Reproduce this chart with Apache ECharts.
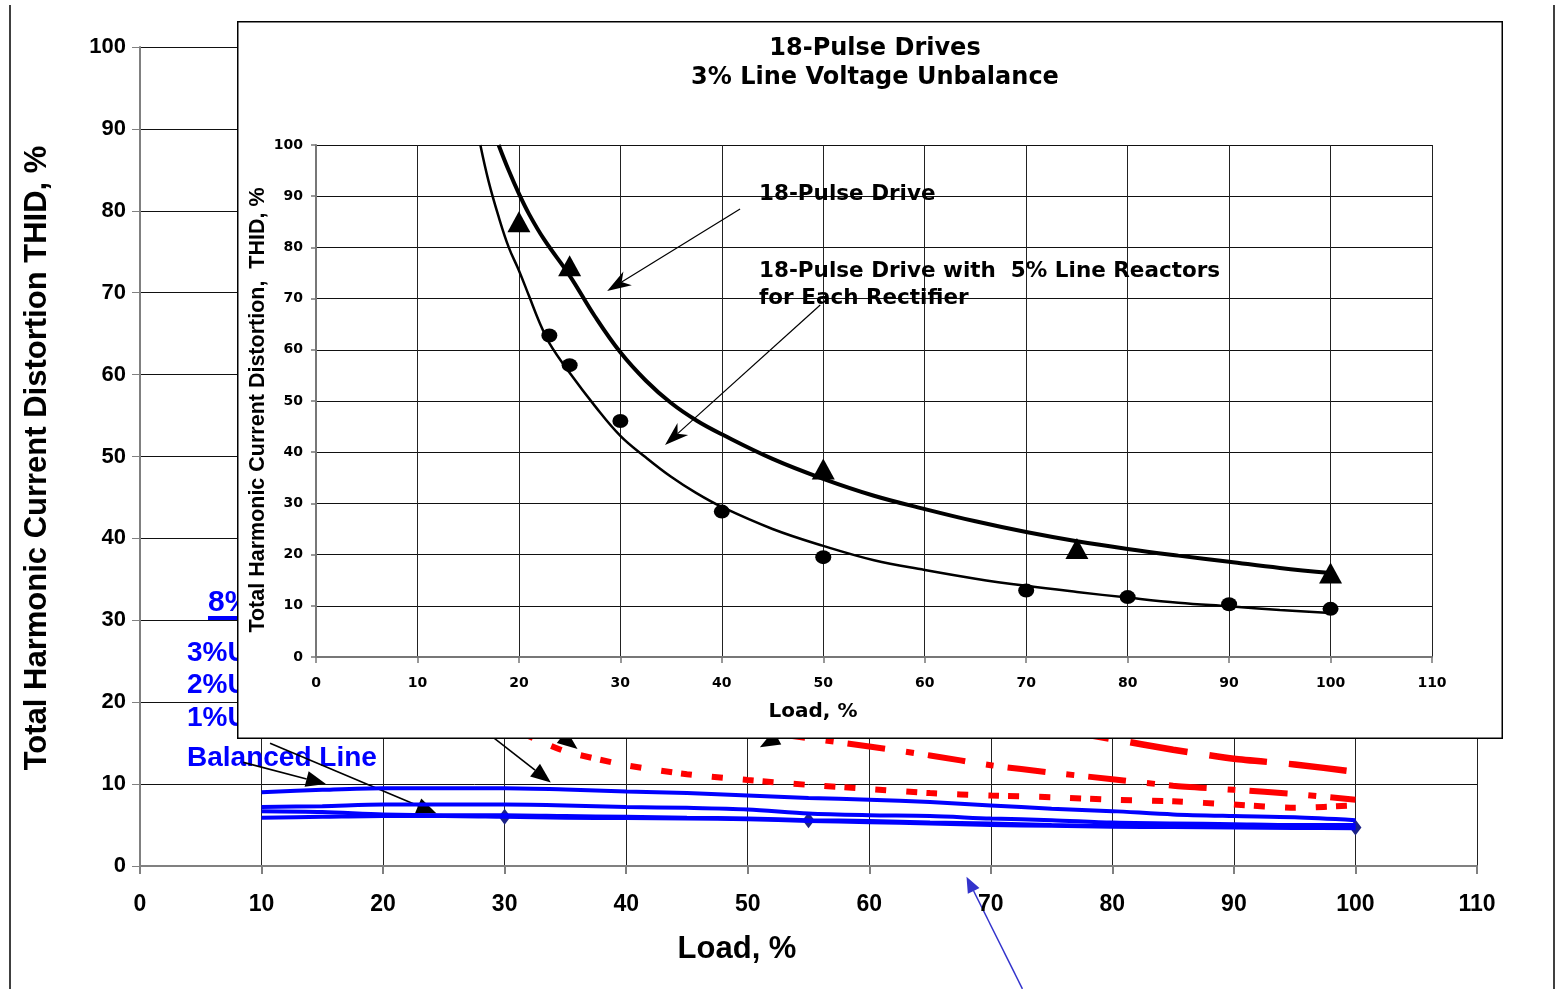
<!DOCTYPE html>
<html>
<head>
<meta charset="utf-8">
<script src="https://cdn.jsdelivr.net/npm/echarts@6/dist/echarts.min.js"></script>
<style>
  html, body { margin: 0; padding: 0; background: #fff; }
  #outer { position: absolute; left: 0; top: 0; width: 1560px; height: 989px; }
  #inset { position: absolute; left: 237px; top: 21px; width: 1266px; height: 718px; background: #fff; }
</style>
</head>
<body>
<div id="outer"></div>
<div id="inset"></div>
<script>
// ---- outer chart (mostly covered by the inset) ----
const outerLoad = [10, 15, 20, 25, 30, 35, 40, 45, 50, 55, 60, 65, 70, 75, 80, 85, 90, 95, 100];
const blueA = [9.0, 9.3, 9.5, 9.5, 9.5, 9.35, 9.1, 8.9, 8.6, 8.3, 8.1, 7.8, 7.4, 7.0, 6.7, 6.3, 6.1, 5.95, 5.6];
const blueB = [7.2, 7.3, 7.5, 7.5, 7.5, 7.4, 7.2, 7.1, 6.9, 6.4, 6.2, 6.1, 5.8, 5.6, 5.3, 5.2, 5.1, 5.0, 5.0];
const blueC = [6.7, 6.6, 6.3, 6.2, 6.2, 6.1, 6.0, 5.9, 5.8, 5.6, 5.5, 5.3, 5.2, 5.0, 4.9, 4.9, 4.9, 4.85, 4.8];
const blueD = [5.9, 6.0, 6.1, 6.1, 6.0, 5.9, 5.85, 5.8, 5.7, 5.5, 5.35, 5.2, 5.0, 4.9, 4.8, 4.75, 4.7, 4.65, 4.6];
const diamondLoad = [30, 55, 100];
const diamondThid = [6.0, 5.6, 4.7];

const redDashLoad = [75, 80, 85, 90, 95, 100];
const redDash = [16.8, 15.5, 14.2, 13.1, 12.4, 11.5];
const redDashDotLoad = [45, 50, 55, 60, 65, 70, 75, 80, 85, 90, 95, 100];
const redDashDot = [17.6, 16.6, 15.6, 14.6, 13.5, 12.3, 11.4, 10.6, 9.8, 9.3, 8.8, 8.1];
const redDotLoad = [30, 32.5, 35, 40, 45, 50, 55, 60, 65, 70, 75, 80, 85, 90, 95, 100];
const redDot = [17.2, 15.5, 14.0, 12.3, 11.2, 10.5, 9.9, 9.4, 8.9, 8.6, 8.4, 8.1, 7.9, 7.5, 7.1, 7.4];

// ---- inset: 18-pulse drives, 3% line voltage unbalance ----
const p18Load = [18, 19, 20, 21, 22.5, 25, 27.5, 30, 32.5, 35, 37.5, 40, 45, 50, 55, 60, 65, 70, 75, 80, 85, 90, 95, 100];
const p18Thid = [100, 95, 90.5, 86.5, 81.5, 74.5, 66.5, 59.5, 54, 49.6, 46.2, 43.5, 38.7, 34.8, 31.5, 28.9, 26.5, 24.4, 22.6, 21.1, 19.8, 18.6, 17.4, 16.4];
const p18rLoad = [16.2, 17, 18, 19, 20, 21, 22, 23, 25, 27.5, 30, 32.5, 35, 37.5, 40, 45, 50, 55, 60, 65, 70, 75, 80, 85, 90, 95, 100];
const p18rThid = [100, 93, 86, 80, 75.5, 70.5, 65.5, 61.3, 55.5, 49, 43.2, 39, 35.2, 32, 29.3, 25, 21.7, 18.9, 17.0, 15.3, 13.9, 12.7, 11.6, 10.6, 9.9, 9.2, 8.6];
const triLoad = [20, 25, 50, 75, 100];
const triThid = [85, 76.4, 36.7, 21.2, 16.4];
const dotLoad = [23, 25, 30, 40, 50, 70, 80, 90, 100];
const dotThid = [62.8, 57, 46.1, 28.4, 19.5, 13.0, 11.7, 10.3, 9.4];

const zip = (xs, ys) => xs.map((x, i) => [x, ys[i]]);

const ARIAL = "'Liberation Sans', Arial, sans-serif";
const WIDE = "'DejaVu Sans', Verdana, sans-serif";
const BLUE = '#0000ff';
const RED = '#ff0000';

function arrowEls(chart, from, to, o) {
  const a = chart.convertToPixel({ gridIndex: 0 }, from);
  const b = chart.convertToPixel({ gridIndex: 0 }, to);
  const dx = b[0] - a[0], dy = b[1] - a[1];
  const len = Math.hypot(dx, dy);
  const ux = dx / len, uy = dy / len, nx = -uy, ny = ux;
  const bx = b[0] - ux * o.head, by = b[1] - uy * o.head;
  const w = o.width / 2;
  const notch = o.notch || 0;
  const cx = bx + ux * notch, cy = by + uy * notch;
  return [
    { type: 'line', silent: true, shape: { x1: a[0], y1: a[1], x2: cx, y2: cy },
      style: { stroke: o.color, lineWidth: o.lw } },
    { type: 'polygon', silent: true,
      shape: { points: [b, [bx + nx * w, by + ny * w], [cx, cy], [bx - nx * w, by - ny * w]] },
      style: { fill: o.color } }
  ];
}

// outer
const outer = echarts.init(document.getElementById('outer'));
outer.setOption({
  animation: false,
  grid: { left: 140, top: 47, width: 1337, height: 819 },
  xAxis: {
    type: 'value', min: 0, max: 110, interval: 10,
    axisLine: { lineStyle: { color: '#808080', width: 2 } },
    axisTick: { length: 8, lineStyle: { color: '#808080', width: 2 } },
    axisLabel: { margin: 27, color: '#000', fontFamily: ARIAL, fontWeight: 'bold', fontSize: 23 },
    splitLine: { show: true, lineStyle: { color: '#222', width: 1 } }
  },
  yAxis: {
    type: 'value', min: 0, max: 100, interval: 10,
    axisLine: { show: true, lineStyle: { color: '#808080', width: 2 } },
    axisTick: { show: true, length: 8, lineStyle: { color: '#808080', width: 1 } },
    axisLabel: { margin: 14, color: '#000', fontFamily: ARIAL, fontWeight: 'bold', fontSize: 22 },
    splitLine: { show: true, lineStyle: { color: '#111', width: 1 } }
  },
  series: [
    { type: 'line', data: zip(redDotLoad, redDot), symbol: 'none', smooth: 0.2,
      lineStyle: { color: RED, width: 6, type: [11, 9, 11, 20, 11, 20] } },
    { type: 'line', data: zip(redDashDotLoad, redDashDot), symbol: 'none', smooth: 0.2,
      lineStyle: { color: RED, width: 6, type: [38, 21, 8, 14] } },
    { type: 'line', data: zip(redDashLoad, redDash), symbol: 'none', smooth: 0.2,
      lineStyle: { color: RED, width: 6.5, type: [58, 22] } },
    { type: 'line', data: zip(outerLoad, blueA), symbol: 'none', smooth: 0.3,
      lineStyle: { color: BLUE, width: 4 } },
    { type: 'line', data: zip(outerLoad, blueB), symbol: 'none', smooth: 0.3,
      lineStyle: { color: BLUE, width: 4 } },
    { type: 'line', data: zip(outerLoad, blueC), symbol: 'none', smooth: 0.3,
      lineStyle: { color: BLUE, width: 4 } },
    { type: 'line', data: zip(outerLoad, blueD), symbol: 'none', smooth: 0.3,
      lineStyle: { color: BLUE, width: 4 } },
    { type: 'scatter', data: zip(diamondLoad, diamondThid), symbol: 'diamond', symbolSize: [12, 16],
      itemStyle: { color: '#1c2288', opacity: 1 } }
  ]
});

const blk = { color: '#000', lw: 1.6, head: 20, width: 16 };
outer.setOption({
  graphic: { elements: [
    { type: 'line', shape: { x1: 10, y1: 5, x2: 10, y2: 989 }, style: { stroke: '#000', lineWidth: 1.5 } },
    { type: 'line', shape: { x1: 1554, y1: 5, x2: 1554, y2: 989 }, style: { stroke: '#000', lineWidth: 1.5 } },
    { type: 'text', x: 37, y: 458, rotation: Math.PI / 2,
      style: { text: 'Total Harmonic Current Distortion THID, %', font: 'bold 31px ' + ARIAL,
        fill: '#000', textAlign: 'center', textVerticalAlign: 'middle' } },
    { type: 'text', x: 737, y: 949,
      style: { text: 'Load, %', font: 'bold 31px ' + ARIAL, fill: '#000', textAlign: 'center', textVerticalAlign: 'middle' } },
    { type: 'text', x: 208, y: 603,
      style: { text: '8%', font: 'bold 30px ' + ARIAL, fill: BLUE, textAlign: 'left', textVerticalAlign: 'middle' } },
    { type: 'line', shape: { x1: 208, y1: 618, x2: 260, y2: 618 }, style: { stroke: BLUE, lineWidth: 4 } },
    { type: 'text', x: 187, y: 653,
      style: { text: '3%U', font: 'bold 28px ' + ARIAL, fill: BLUE, textAlign: 'left', textVerticalAlign: 'middle' } },
    { type: 'text', x: 187, y: 685,
      style: { text: '2%U', font: 'bold 28px ' + ARIAL, fill: BLUE, textAlign: 'left', textVerticalAlign: 'middle' } },
    { type: 'text', x: 187, y: 718,
      style: { text: '1%U', font: 'bold 28px ' + ARIAL, fill: BLUE, textAlign: 'left', textVerticalAlign: 'middle' } },
    { type: 'text', x: 187, y: 758,
      style: { text: 'Balanced Line', font: 'bold 28px ' + ARIAL, fill: BLUE, textAlign: 'left', textVerticalAlign: 'middle' } },
    ...arrowEls(outer, [8.5, 12.65], [15.3, 10.0], blk),
    ...arrowEls(outer, [10.7, 15.0], [24.4, 6.4], blk),
    ...arrowEls(outer, [27.5, 17.5], [33.8, 10.2], blk),
    ...arrowEls(outer, [31.5, 19.5], [36.0, 14.3], blk),
    ...arrowEls(outer, [56.5, 19.0], [51.0, 14.5], blk),
    ...arrowEls(outer, [72.6, -15.0], [68.0, -1.3], { color: '#3333cc', lw: 1.5, head: 16, width: 13 })
  ] }
});

// inset
const inset = echarts.init(document.getElementById('inset'));
inset.setOption({
  animation: false,
  grid: { left: 79, top: 124, width: 1116, height: 512 },
  xAxis: {
    type: 'value', min: 0, max: 110, interval: 10,
    axisLine: { lineStyle: { color: '#777', width: 2 } },
    axisTick: { length: 6, lineStyle: { color: '#777', width: 1.5 } },
    axisLabel: { margin: 19, color: '#000', fontFamily: WIDE, fontWeight: 'bold', fontSize: 14 },
    splitLine: { show: true, lineStyle: { color: '#222', width: 1 } }
  },
  yAxis: {
    type: 'value', min: 0, max: 100, interval: 10,
    axisLine: { show: true, lineStyle: { color: '#777', width: 2 } },
    axisTick: { show: true, length: 5, lineStyle: { color: '#777', width: 1.5 } },
    axisLabel: { margin: 13, color: '#000', fontFamily: WIDE, fontWeight: 'bold', fontSize: 14 },
    splitLine: { show: true, lineStyle: { color: '#111', width: 1 } }
  },
  series: [
    { type: 'line', data: zip(p18Load, p18Thid), symbol: 'none', smooth: 0.4,
      lineStyle: { color: '#000', width: 4 } },
    { type: 'line', data: zip(p18rLoad, p18rThid), symbol: 'none', smooth: 0.4,
      lineStyle: { color: '#000', width: 2.5 } },
    { type: 'scatter', data: zip(triLoad, triThid), symbol: 'triangle', symbolSize: [23, 21],
      itemStyle: { color: '#000', opacity: 1 } },
    { type: 'scatter', data: zip(dotLoad, dotThid), symbol: 'circle', symbolSize: [16, 14],
      itemStyle: { color: '#000', opacity: 1 } }
  ]
});

const thin = { color: '#000', lw: 1.2, head: 24, width: 16, notch: 7 };
inset.setOption({
  graphic: { elements: [
    { type: 'rect', shape: { x: 0.75, y: 0.75, width: 1264.5, height: 716.5 },
      style: { fill: 'none', stroke: '#000', lineWidth: 1.5 } },
    { type: 'text', x: 638, y: 28,
      style: { text: '18-Pulse Drives', font: 'bold 24px ' + WIDE, fill: '#000', textAlign: 'center', textVerticalAlign: 'middle' } },
    { type: 'text', x: 638, y: 57,
      style: { text: '3% Line Voltage Unbalance', font: 'bold 24px ' + WIDE, fill: '#000', textAlign: 'center', textVerticalAlign: 'middle' } },
    { type: 'text', x: 522, y: 173,
      style: { text: '18-Pulse Drive', font: 'bold 21.5px ' + WIDE, fill: '#000', textAlign: 'left', textVerticalAlign: 'middle' } },
    { type: 'text', x: 522, y: 250,
      style: { text: '18-Pulse Drive with  5% Line Reactors', font: 'bold 21.5px ' + WIDE, fill: '#000', textAlign: 'left', textVerticalAlign: 'middle' } },
    { type: 'text', x: 522, y: 277,
      style: { text: 'for Each Rectifier', font: 'bold 21.5px ' + WIDE, fill: '#000', textAlign: 'left', textVerticalAlign: 'middle' } },
    { type: 'text', x: 21, y: 389, rotation: Math.PI / 2,
      style: { text: 'Total Harmonic Current Distortion,  THID, %', font: 'bold 21.5px ' + ARIAL,
        fill: '#000', textAlign: 'center', textVerticalAlign: 'middle' } },
    { type: 'text', x: 576, y: 691,
      style: { text: 'Load, %', font: 'bold 20px ' + WIDE, fill: '#000', textAlign: 'center', textVerticalAlign: 'middle' } },
    ...arrowEls(inset, [41.8, 87.5], [28.7, 71.5], thin),
    ...arrowEls(inset, [49.7, 68.75], [34.4, 41.4], thin)
  ] }
});
</script>
</body>
</html>
